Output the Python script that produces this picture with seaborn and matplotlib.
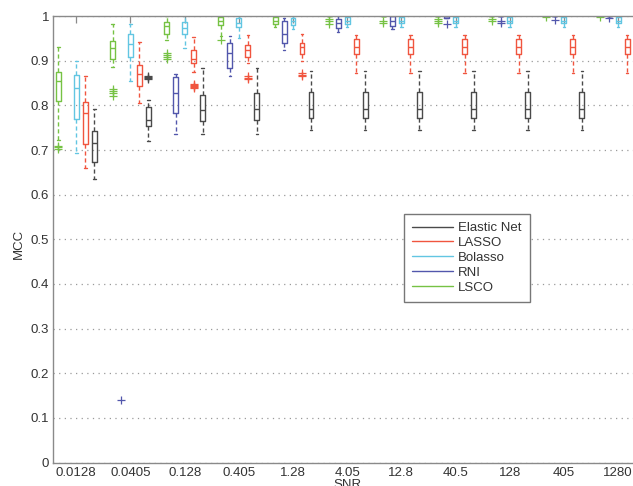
import matplotlib
matplotlib.use("Agg")
import numpy as np
import pandas as pd
import seaborn as sns
import matplotlib.pyplot as plt
from matplotlib.lines import Line2D

# SNR levels on the x axis
snr_labels = ["0.0128", "0.0405", "0.128", "0.405", "1.28", "4.05",
              "12.8", "40.5", "128", "405", "1280"]
y_ticks = [0, 0.1, 0.2, 0.3, 0.4, 0.5, 0.6, 0.7, 0.8, 0.9, 1.0]
y_tick_labels = ["0", "0.1", "0.2", "0.3", "0.4", "0.5", "0.6", "0.7", "0.8", "0.9", "1"]

# methods, in their left-to-right order inside each SNR group
methods = ["LSCO", "RNI", "Bolasso", "LASSO", "Elastic Net"]
legend_order = ["Elastic Net", "LASSO", "Bolasso", "RNI", "LSCO"]
colors = {
    "Elastic Net": "#4a4a4a",
    "LASSO": "#f0553f",
    "Bolasso": "#62c6e2",
    "RNI": "#5257ac",
    "LSCO": "#76c244",
}

# MCC summaries per SNR: (low whisker, Q1, median, Q3, high whisker); None = no box
ONE = (1.0, 1.0, 1.0, 1.0, 1.0)
lsco_box = [(0.722, 0.81, 0.855, 0.875, 0.93), (0.887, 0.905, 0.928, 0.944, 0.982),
            (0.946, 0.96, 0.978, 0.987, 1.0), (0.955, 0.98, 0.99, 0.998, 1.0),
            (0.975, 0.982, 0.99, 0.998, 1.0), ONE, ONE, ONE, ONE, ONE, ONE]
lsco_out = [[0.703, 0.707, 0.71], [0.822, 0.827, 0.832, 0.837],
            [0.903, 0.908, 0.913, 0.918], [0.946], [],
            [0.983, 0.988, 0.993], [0.985, 0.99], [0.984, 0.989, 0.994],
            [0.988, 0.993], [0.997], [0.998]]

rni_box = [None, (-0.25, -0.15, -0.1, -0.05, -0.01),
           (0.735, 0.782, 0.827, 0.864, 0.87), (0.866, 0.883, 0.917, 0.94, 0.955),
           (0.924, 0.94, 0.961, 0.99, 0.995), (0.965, 0.973, 0.985, 0.993, 1.0),
           (0.972, 0.978, 0.99, 1.0, 1.0), (0.983, 0.995, 1.0, 1.0, 1.0),
           ONE, ONE, ONE]
rni_out = [[], [0.14], [], [], [], [], [], [], [0.985, 0.99], [0.991], [0.996]]

bolasso_box = [(0.693, 0.769, 0.838, 0.868, 0.9), (0.855, 0.909, 0.937, 0.96, 0.982),
               (0.928, 0.961, 0.973, 0.987, 1.0), (0.95, 0.975, 0.985, 0.995, 1.0),
               (0.972, 0.98, 0.99, 0.995, 1.0), (0.975, 0.982, 0.99, 0.998, 1.0),
               (0.975, 0.985, 0.99, 0.997, 1.0), (0.975, 0.985, 0.99, 0.997, 1.0),
               (0.975, 0.985, 0.99, 0.997, 1.0), (0.975, 0.985, 0.99, 0.997, 1.0),
               (0.975, 0.985, 0.99, 0.997, 1.0)]
bolasso_out = [[] for _ in snr_labels]

lasso_box = [(0.66, 0.713, 0.783, 0.808, 0.865), (0.805, 0.843, 0.87, 0.89, 0.943),
             (0.875, 0.894, 0.903, 0.924, 0.954), (0.894, 0.909, 0.924, 0.935, 0.958),
             (0.9, 0.915, 0.93, 0.94, 0.96), (0.873, 0.915, 0.93, 0.948, 0.958),
             (0.873, 0.915, 0.93, 0.948, 0.958), (0.873, 0.915, 0.93, 0.948, 0.958),
             (0.873, 0.915, 0.93, 0.948, 0.958), (0.873, 0.915, 0.93, 0.948, 0.958),
             (0.873, 0.915, 0.93, 0.948, 0.958)]
lasso_out = [[], [], [0.838, 0.841, 0.844, 0.846, 0.848], [0.858, 0.862, 0.866],
             [0.866, 0.869, 0.872], [], [], [], [], [], []]

enet_box = [(0.635, 0.674, 0.716, 0.743, 0.791), (0.72, 0.754, 0.767, 0.796, 0.812),
            (0.737, 0.765, 0.79, 0.823, 0.883), (0.737, 0.767, 0.791, 0.828, 0.883),
            (0.744, 0.772, 0.792, 0.831, 0.876), (0.744, 0.772, 0.792, 0.831, 0.876),
            (0.744, 0.772, 0.792, 0.831, 0.876), (0.744, 0.772, 0.792, 0.831, 0.876),
            (0.744, 0.772, 0.792, 0.831, 0.876), (0.744, 0.772, 0.792, 0.831, 0.876),
            (0.744, 0.772, 0.792, 0.831, 0.876)]
enet_out = [[], [0.86, 0.862, 0.864, 0.866], [], [], [], [], [], [], [], [], []]

summaries = {
    "LSCO": (lsco_box, lsco_out),
    "RNI": (rni_box, rni_out),
    "Bolasso": (bolasso_box, bolasso_out),
    "LASSO": (lasso_box, lasso_out),
    "Elastic Net": (enet_box, enet_out),
}


def runs_from_summary(box, outliers):
    """Sorted MCC runs whose quartiles, whisker ends and outliers equal the summary."""
    lo, q1, med, q3, hi = box
    out_lo = sorted(v for v in outliers if v < q1)
    out_hi = sorted(v for v in outliers if v > q3)
    m = max(len(out_lo), len(out_hi)) + 2
    vals = out_lo + [lo] + [q1] * (m - len(out_lo))
    vals += [med] * m
    vals += [q3] * m
    vals += [q3] * (m - 1 - len(out_hi)) + [hi] + out_hi
    return vals


rows = []
for method in methods:
    boxes, outs = summaries[method]
    for snr, box, out in zip(snr_labels, boxes, outs):
        if box is None:
            continue
        for v in runs_from_summary(box, out):
            rows.append({"SNR": snr, "method": method, "MCC": v})
df = pd.DataFrame(rows)

sns.set_theme(style="white")
plt.rcParams["font.family"] = ["Liberation Sans", "DejaVu Sans"]
plt.rcParams["font.size"] = 9.5

fig = plt.figure(figsize=(6.33, 4.86), dpi=100)
W, H = 633, 486
ax = fig.add_axes([53.5 / W, 23.5 / H, (640.9 - 53.5) / W, (462.5 - 16.1) / H])

sns.boxplot(
    data=df, x="SNR", y="MCC", hue="method",
    order=snr_labels, hue_order=methods, palette=colors,
    fill=False, width=0.83, gap=0.45, whis=1.5, linewidth=1.0,
    fliersize=5.5, saturation=1, legend=False, ax=ax,
    flierprops=dict(marker="+", markeredgewidth=0.9),
    whiskerprops=dict(linestyle=(0, (3, 2))),
)

spine_col = "#8a8a8a"
ax.set_xlim(-0.421, 10.421)
ax.set_ylim(0, 1)
ax.set_xticks(range(len(snr_labels)))
ax.set_xticklabels(snr_labels)
ax.set_yticks(y_ticks)
ax.set_yticklabels(y_tick_labels)
ax.yaxis.grid(True, linestyle=(0, (1, 3.5)), color="#9a9a9a", linewidth=0.9)
ax.xaxis.grid(False)
ax.set_axisbelow(True)
for s in ax.spines.values():
    s.set_color(spine_col)
    s.set_linewidth(1.0)
    s.set_visible(True)
ax.tick_params(axis="both", direction="in", length=5, width=0.9, color=spine_col,
               labelcolor="#333333", labelsize=9.5, pad=3, top=True, right=True)
ax.set_xlabel("SNR", fontsize=9.5, color="#333333", labelpad=0)
ax.set_ylabel("MCC", fontsize=9.5, color="#333333")
ax.yaxis.set_label_coords(-0.049, 0.49)

handles = [Line2D([0], [0], color=colors[m], lw=1.0) for m in legend_order]
leg = ax.legend(handles, legend_order, loc="upper left",
                bbox_to_anchor=(404 / W, 1 - 214 / H), bbox_transform=fig.transFigure,
                borderaxespad=0, frameon=True, fancybox=False, shadow=False,
                fontsize=9.5, handlelength=3.1, handletextpad=0.4,
                labelspacing=0.2, borderpad=0.6)
leg.get_frame().set_edgecolor("#777777")
leg.get_frame().set_linewidth(1.0)
leg.get_frame().set_facecolor("white")
leg.get_frame().set_alpha(1)
for t in leg.get_texts():
    t.set_color("#333333")

fig.savefig("out.png", dpi=100)
